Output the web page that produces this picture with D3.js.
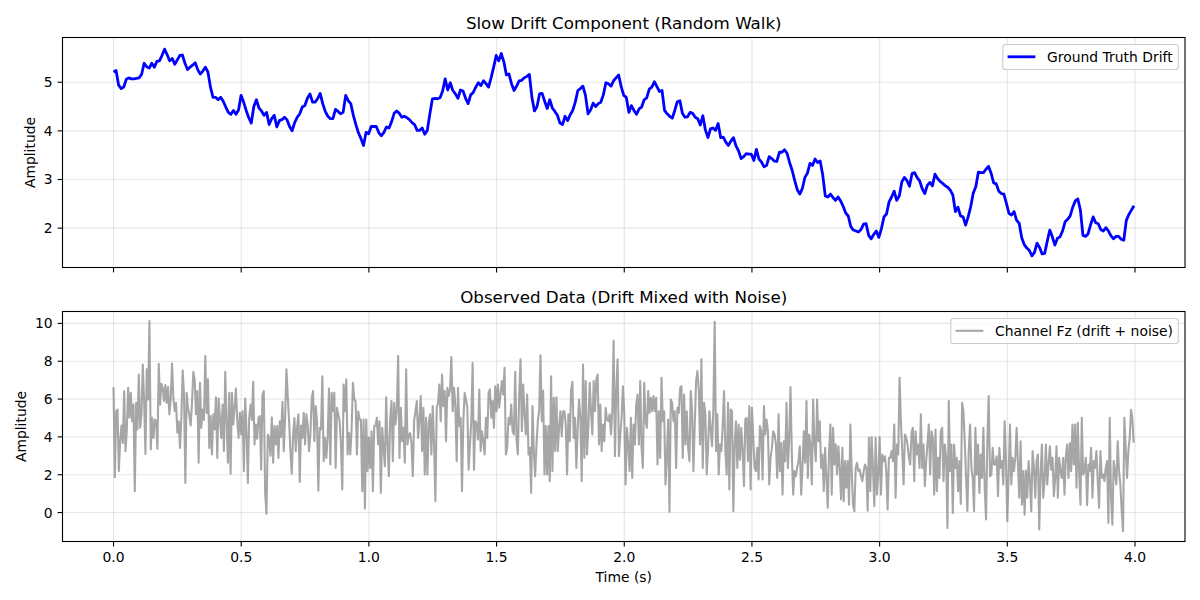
<!DOCTYPE html>
<html><head><meta charset="utf-8">
<script src="https://cdn.jsdelivr.net/npm/d3@7"></script>
<style>body{margin:0;background:#fff} text{font-family:"DejaVu Sans",sans-serif;fill:#000}</style>
</head><body><svg id="c" width="1200" height="600"></svg>
<script>
// ---- data ----
const driftDuration = 3.996;           // seconds covered by drift samples
const driftValues = [
5.21,5.24,4.94,4.87,4.90,5.06,5.09,5.07,5.07,5.08,
5.09,5.16,5.39,5.32,5.29,5.39,5.31,5.43,5.44,5.55,
5.68,5.57,5.44,5.49,5.37,5.46,5.55,5.56,5.39,5.26,
5.31,5.35,5.40,5.26,5.17,5.23,5.31,5.21,4.90,4.69,
4.69,4.64,4.69,4.61,4.49,4.38,4.34,4.42,4.34,4.43,
4.73,4.59,4.42,4.27,4.16,4.50,4.64,4.47,4.41,4.32,
4.38,4.13,4.25,4.32,4.08,4.21,4.23,4.28,4.23,4.09,
4.00,4.17,4.28,4.35,4.49,4.52,4.67,4.76,4.59,4.59,
4.66,4.77,4.56,4.40,4.30,4.25,4.25,4.44,4.40,4.35,
4.38,4.73,4.62,4.56,4.32,4.13,3.96,3.84,3.70,3.97,
3.94,4.09,4.09,4.09,3.96,3.90,3.97,4.08,4.06,4.19,
4.36,4.41,4.36,4.28,4.30,4.27,4.23,4.17,4.13,4.01,
4.01,4.06,3.93,4.01,4.35,4.66,4.67,4.66,4.68,4.82,
5.07,4.84,4.99,4.83,4.76,4.67,4.84,4.82,4.67,4.56,
4.74,4.79,4.90,4.99,4.93,5.03,4.97,4.90,5.09,5.31,
5.55,5.44,5.59,5.42,5.15,5.17,4.97,4.83,4.92,5.03,
5.04,5.09,5.12,5.16,4.69,4.41,4.50,4.76,4.77,4.61,
4.46,4.64,4.47,4.40,4.32,4.16,4.13,4.30,4.21,4.33,
4.42,4.59,4.83,4.87,4.92,4.73,4.35,4.43,4.57,4.50,
4.56,4.59,4.74,4.99,4.97,4.92,5.03,5.09,5.15,4.91,
4.73,4.69,4.38,4.52,4.42,4.34,4.45,4.49,4.64,4.68,
4.86,4.90,5.01,4.91,4.81,4.83,4.42,4.35,4.30,4.26,
4.42,4.60,4.62,4.36,4.28,4.29,4.38,4.36,4.28,4.25,
4.12,4.31,4.02,3.86,4.04,4.06,4.01,4.15,3.86,3.87,
3.77,3.70,3.79,3.86,3.69,3.59,3.43,3.47,3.53,3.52,
3.52,3.39,3.62,3.42,3.36,3.26,3.29,3.47,3.43,3.38,
3.37,3.56,3.56,3.61,3.54,3.35,3.19,2.98,2.79,2.70,
2.81,3.04,3.13,3.33,3.29,3.42,3.35,3.38,3.09,2.66,
2.64,2.70,2.63,2.57,2.64,2.56,2.45,2.31,2.25,2.03,
1.96,1.94,1.92,1.97,2.08,2.09,1.85,1.78,1.87,1.94,
1.81,1.99,2.23,2.29,2.54,2.64,2.76,2.57,2.66,2.95,
3.04,2.98,2.86,3.12,3.14,3.04,2.97,2.81,2.71,2.88,
2.94,2.87,3.11,3.02,2.96,2.92,2.87,2.84,2.78,2.68,
2.34,2.43,2.25,2.23,2.06,2.23,2.44,2.72,2.85,3.15,
3.14,3.14,3.21,3.27,3.13,2.93,2.91,2.76,2.71,2.70,
2.51,2.30,2.27,2.34,2.16,2.10,1.80,1.66,1.59,1.54,
1.43,1.50,1.69,1.60,1.47,1.48,1.73,1.96,1.82,1.65,
1.79,1.82,1.94,2.13,2.18,2.25,2.43,2.56,2.60,2.37,
1.85,1.83,1.88,2.07,2.23,2.11,2.09,1.97,1.94,2.01,
1.94,1.84,1.78,1.83,1.83,1.77,1.75,2.16,2.28,2.37,
2.46
];
const noiseRate = 192;                 // samples per second
const noiseValues = [
6.63,1.87,5.36,5.45,2.19,3.77,4.6,3.68,6.42,3.25,
4.4,6.60,5.01,6.33,4.83,5.71,1.13,5.80,4.39,7.30,
4.48,5.2,7.83,5.89,3.10,7.57,5.98,10.12,3.33,5.01,
3.95,4.92,4.83,3.38,7.87,5.71,6.81,6.60,5.9,6.74,
5.80,6.63,5.19,6.0,7.88,6.07,5.36,5.8,4.22,4.83,
3.42,5.0,7.51,6.24,1.57,6.33,5.54,5.15,4.6,5.8,
7.44,7.04,5.2,6.42,2.63,6.86,4.48,5.45,4.9,8.27,
5.27,7.04,3.42,5.10,3.07,5.19,4.4,6.10,2.89,6.03,
5.0,3.95,5.71,3.25,7.44,4.83,2.63,6.33,2.05,6.33,
4.66,5.5,6.56,4.9,3.95,5.27,4.13,5.36,2.19,6.03,
4.30,1.57,5.01,5.71,4.9,6.91,3.60,4.66,3.9,5.01,
5.10,2.27,6.21,6.42,1.04,-0.07,4.13,3.95,3.0,5.04,
2.63,4.57,3.6,4.57,2.89,4.83,4.0,5.86,3.25,5.0,
7.57,6.16,4.83,3.25,2.05,4.04,5.0,3.25,4.48,5.19,
1.62,4.6,3.95,5.27,3.60,5.19,4.6,3.25,4.13,
6.03,6.42,3.77,5.63,4.83,1.16,4.48,4.39,7.21,2.72,
3.95,2.89,4.0,6.56,2.54,6.33,5.36,6.33,2.36,5.54,
5.19,4.8,3.60,1.22,6.77,5.36,7.04,3.07,4.22,3.07,
4.39,6.86,6.0,5.89,3.07,5.36,4.92,4.92,1.13,4.92,
0.21,4.92,2.19,3.95,2.36,4.30,1.13,4.57,4.6,5.01,
3.60,4.83,1.04,4.48,3.4,2.45,6.10,3.60,1.92,4.92,
5.89,2.72,5.80,4.66,5.45,8.27,2.89,5.54,3.77,4.48,
2.63,7.57,3.60,4.13,4.2,3.68,1.92,4.83,5.36,5.89,
3.95,4.9,6.16,3.25,5.54,2.01,5.01,2.01,4.74,5.19,
3.07,5.63,3.60,0.60,5.54,5.80,6.77,4.83,7.30,5.63,
6.42,3.77,6.60,6.16,6.5,8.22,5.36,6.60,5.63,2.72,
6.60,4.57,5.01,1.13,4.83,6.33,5.98,5.54,2.27,3.60,
4.83,7.92,2.27,4.83,4.66,3.86,6.51,3.25,4.30,3.77,
3.07,5.01,3.95,6.33,6.51,5.01,5.89,4.48,6.68,5.36,
6.77,5.54,6.3,6.95,6.24,7.65,3.07,3.42,5.01,4.66,
5.71,4.30,4.13,
7.44,3.86,3.07,6.24,8.10,4.30,6.77,5.19,4.13,6.24,
3.07,3.42,1.04,5.63,3.25,1.92,3.60,4.83,5.36,8.32,
4.83,6.45,2.01,4.57,2.01,4.57,1.66,7.21,2.19,6.07,
3.25,6.10,3.25,4.48,5.36,4.04,5.36,5.36,4.66,2.01,
5.19,3.77,6.42,6.91,3.95,5.01,2.36,4.48,5.98,5.01,
1.66,7.83,2.89,6.95,3.07,4.48,6.86,5.36,4.13,6.95,
5.36,7.04,7.30,3.60,5.71,3.25,4.66,3.77,5.54,4.92,
4.83,5.19,4.13,5.36,9.10,2.98,6.51,8.10,2.98,4.13,
5.01,6.68,5.19,1.48,4.48,3.60,2.19,5.01,1.83,4.66,
3.60,5.71,6.24,3.60,6.95,3.42,2.36,6.86,4.83,4.48,
6.42,5.27,6.07,5.36,6.16,5.36,6.07,2.54,5.36,2.89,
7.13,4.83,5.36,1.48,2.89,4.92,0.04,5.98,5.80,4.83,
5.36,2.36,5.54,5.27,6.60,6.68,2.89,6.24,3.60,5.36,
3.42,2.72,6.42,5.36,2.19,4.66,6.95,7.48,6.51,3.60,
8.10,2.36,5.80,5.19,2.01,3.42,5.36,4.48,3.51,5.54,
10.09,3.25,5.19,
2.01,3.60,3.25,4.57,6.42,3.25,2.01,5.80,1.22,5.45,
5.36,0.07,3.60,4.83,2.36,4.66,2.80,4.48,3.25,1.39,
4.92,5.01,2.72,5.63,1.22,5.54,3.95,2.36,2.19,3.42,
1.75,4.57,4.30,1.75,5.63,4.13,4.92,4.30,1.48,2.89,
3.42,4.30,4.13,3.60,1.83,5.19,2.19,3.68,0.95,3.77,
2.72,5.80,2.36,3.86,6.63,3.07,0.95,2.19,1.92,2.36,
2.72,3.51,0.95,2.36,4.30,2.63,5.89,1.83,4.13,3.60,
1.48,5.98,3.60,2.72,5.98,3.77,4.83,2.36,3.07,1.13,
3.42,1.83,0.25,3.25,4.66,0.95,4.48,2.54,3.60,2.01,
3.51,2.36,0.69,3.42,0.60,2.72,1.31,2.72,0.42,4.66,
2.19,0.42,0.07,2.36,2.63,2.19,2.27,1.92,1.66,2.19,
2.54,2.36,0.10,3.95,1.13,3.99,2.36,0.34,3.95,0.95,
2.01,3.99,0.95,3.07,2.72,2.98,2.19,0.16,2.89,2.89,
3.25,2.72,4.66,0.78,3.60,3.07,7.13,4.83,3.25,1.48,
4.13,3.95,3.60,2.89,2.54,4.22,4.48,1.66,4.30,3.07,
3.60,2.36,
5.19,2.36,3.60,1.39,2.72,3.68,4.66,2.01,4.30,3.95,
0.95,4.39,1.13,2.89,1.83,4.30,4.48,1.66,3.60,2.89,
-0.81,5.89,2.19,3.60,-0.02,3.60,2.36,2.89,1.13,2.72,
0.46,5.80,5.36,3.77,1.83,0.07,3.25,4.66,2.36,1.83,
0.07,4.48,2.01,3.60,1.04,3.07,1.83,4.48,1.31,-0.37,
3.77,6.16,1.92,2.01,3.42,2.54,2.54,2.98,0.86,3.42,
2.36,2.72,1.48,4.83,2.72,-0.46,2.01,4.66,1.48,2.89,
2.19,2.89,4.48,2.54,0.78,3.77,0.42,2.19,-0.11,2.22,
0.78,2.72,1.66,0.07,3.25,2.36,0.78,2.72,3.07,-0.90,
2.01,3.60,0.78,1.66,3.60,1.48,2.54,3.51,2.27,2.89,
0.86,1.83,3.51,0.78,2.89,2.19,1.83,2.89,0.95,2.98,
3.60,1.83,3.68,2.19,4.66,2.54,4.66,1.31,4.74,2.19,
0.42,5.01,2.01,2.19,2.89,0.39,2.54,2.19,3.42,0.78,
2.72,2.36,3.25,1.66,0.25,3.25,1.83,2.01,1.66,2.36,
2.72,-0.55,5.01,0.78,-0.64,2.72,2.19,1.48,3.77,2.19,
1.48,0.07,-0.99,5.01,3.42,1.83,3.25,3.95,5.43,5.01,
3.69
];
const xTicks = [0,0.5,1.0,1.5,2.0,2.5,3.0,3.5,4.0];
const topYTicks = [2,3,4,5];
const bottomYTicks = [0,2,4,6,8,10];
const xDomain = [-0.1998, 4.1958];
const topYDomain = [1.19, 5.92];
const bottomYDomain = [-1.53, 10.63];
const topTitle = "Slow Drift Component (Random Walk)";
const bottomTitle = "Observed Data (Drift Mixed with Noise)";
const topLegend = "Ground Truth Drift";
const bottomLegend = "Channel Fz (drift + noise)";
const yLabel = "Amplitude";
const xLabel = "Time (s)";

// ---- layout ----
const svg = d3.select("#c");
const L = 62.5, R = 1185;
const panels = [
  {top:37.5, bottom:267.5, yDomain:topYDomain, yTicks:topYTicks, title:topTitle, showX:false,
   data: driftValues.map((v,i)=>[i*driftDuration/(driftValues.length-1), v]),
   color:"#0000ff", opacity:1, width:2.8, legend:topLegend, legendW:175.5, ylabX:35.2},
  {top:311.5, bottom:541.5, yDomain:bottomYDomain, yTicks:bottomYTicks, title:bottomTitle, showX:true,
   data: noiseValues.map((v,i)=>[i/noiseRate, v]),
   color:"#808080", opacity:0.7, width:2.08, legend:bottomLegend, legendW:227.5, ylabX:26.1}
];
const x = d3.scaleLinear().domain(xDomain).range([L, R]);
const FS = 13.9;

panels.forEach(p => {
  const y = d3.scaleLinear().domain(p.yDomain).range([p.bottom, p.top]);
  const g = svg.append("g");
  g.selectAll(".gx").data(xTicks).join("line")
    .attr("x1", d=>x(d)).attr("x2", d=>x(d)).attr("y1", p.top).attr("y2", p.bottom)
    .attr("stroke","#b0b0b0").attr("stroke-opacity",0.3).attr("stroke-width",1.1);
  g.selectAll(".gy").data(p.yTicks).join("line")
    .attr("x1", L).attr("x2", R).attr("y1", d=>y(d)).attr("y2", d=>y(d))
    .attr("stroke","#b0b0b0").attr("stroke-opacity",0.3).attr("stroke-width",1.1);
  const cid = "clip"+Math.round(p.top);
  svg.append("clipPath").attr("id",cid).append("rect")
    .attr("x",L).attr("y",p.top).attr("width",R-L).attr("height",p.bottom-p.top);
  const line = d3.line().x(d=>x(d[0])).y(d=>y(d[1]));
  g.append("path").datum(p.data).attr("d", line).attr("clip-path",`url(#${cid})`)
    .attr("fill","none").attr("stroke",p.color).attr("stroke-opacity",p.opacity)
    .attr("stroke-width",p.width).attr("stroke-linejoin","round").attr("stroke-linecap","butt");
  g.append("rect").attr("x",L).attr("y",p.top).attr("width",R-L).attr("height",p.bottom-p.top)
    .attr("fill","none").attr("stroke","#000").attr("stroke-width",1.1);
  g.selectAll(".tx").data(xTicks).join("line")
    .attr("x1", d=>x(d)).attr("x2", d=>x(d)).attr("y1", p.bottom).attr("y2", p.bottom+4.9)
    .attr("stroke","#000").attr("stroke-width",1.1);
  if (p.showX) {
    g.selectAll(".lx").data(xTicks).join("text")
      .attr("x", d=>x(d)).attr("y", p.bottom+20.6).attr("text-anchor","middle")
      .attr("font-size",FS).text(d=>d3.format(".1f")(d));
    g.append("text").attr("x",(L+R)/2).attr("y",582).attr("text-anchor","middle")
      .attr("font-size",FS).text(xLabel);
  }
  g.selectAll(".ty").data(p.yTicks).join("line")
    .attr("x1", L-4.9).attr("x2", L).attr("y1", d=>y(d)).attr("y2", d=>y(d))
    .attr("stroke","#000").attr("stroke-width",1.1);
  g.selectAll(".ly").data(p.yTicks).join("text")
    .attr("x", L-9.8).attr("y", d=>y(d)).attr("dy","0.36em").attr("text-anchor","end")
    .attr("font-size",FS).text(d=>d);
  g.append("text").attr("transform",`translate(${p.ylabX},${(p.top+p.bottom)/2}) rotate(-90)`)
    .attr("text-anchor","middle").attr("font-size",FS).text(yLabel);
  g.append("text").attr("x",(L+R)/2).attr("y",p.top-8.2).attr("text-anchor","middle")
    .attr("font-size",16.7).text(p.title);
  const lx = 1178.3 - p.legendW, ly = p.top + 7;
  g.append("rect").attr("x",lx).attr("y",ly).attr("width",p.legendW).attr("height",25)
    .attr("rx",2.8).attr("fill","#fff").attr("fill-opacity",0.8)
    .attr("stroke","#cccccc").attr("stroke-width",1.1);
  g.append("line").attr("x1",lx+4.8).attr("x2",lx+32.6).attr("y1",ly+12.3).attr("y2",ly+12.3)
    .attr("stroke",p.color).attr("stroke-opacity",p.opacity).attr("stroke-width",p.width);
  g.append("text").attr("x",lx+44.3).attr("y",ly+12.5).attr("dy","0.36em")
    .attr("font-size",FS).text(p.legend);
});
</script></body></html>
